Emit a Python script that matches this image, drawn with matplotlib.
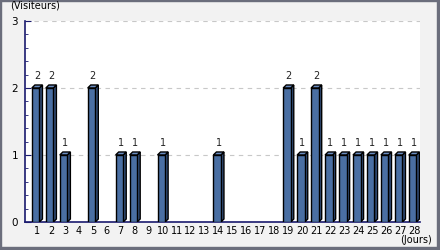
import matplotlib.pyplot as plt
from matplotlib.patches import Polygon, Rectangle

days = list(range(1, 29))
visitors = [2, 2, 1, 0, 2, 0, 1, 1, 0, 1, 0, 0, 0, 1,
            0, 0, 0, 0, 2, 1, 2, 1, 1, 1, 1, 1, 1, 1]

front_color = '#4a6fa3'
top_color = '#6a8cc0'
side_color = '#34517e'
axis_color = '#1a1a6e'

fig = plt.figure(figsize=(4.4, 2.5), dpi=100)
fig.patch.set_facecolor('#f2f2f2')
ax = fig.add_axes([25 / 440, 28 / 250, 395 / 440, 201 / 250])
ax.set_facecolor('white')

width = 0.54
dx = 0.22   # depth of the fake 3d side, in days
dy = 0.045  # depth of the top face, in visitors
for d, v in zip(days, visitors):
    if v == 0:
        continue
    x0 = d - 0.37
    x1 = x0 + width
    ax.add_patch(Polygon([(x1, 0), (x1 + dx, dy), (x1 + dx, v + dy), (x1, v)],
                         closed=True, fc=side_color, ec='black', lw=1.0, zorder=3))
    ax.add_patch(Polygon([(x0, v), (x1, v), (x1 + dx, v + dy), (x0 + dx, v + dy)],
                         closed=True, fc=top_color, ec='black', lw=1.0, zorder=3))
    ax.bar(x0, v, width=width, align='edge', color=front_color,
           edgecolor='black', linewidth=1.0, zorder=4)
    ax.text(d, v + 0.1, str(v), ha='center', va='bottom', fontsize=7, color='#222222')

ax.set_xlim(0.14, 28.43)
ax.set_ylim(0, 3)
ax.set_xticks(days)
ax.set_xticklabels([str(d) for d in days], fontsize=7)
ax.set_yticks([0, 1, 2, 3])
ax.set_yticklabels(['0', '1', '2', '3'], fontsize=7.5)
ax.set_yticks([i * 0.2 for i in range(16)], minor=True)
ax.tick_params(axis='x', length=0, pad=3)
ax.tick_params(axis='y', which='major', direction='in', length=4, color=axis_color, pad=5)
ax.tick_params(axis='y', which='minor', direction='in', length=2.5, color=axis_color)
ax.grid(axis='y', which='major', color='#c8c8c8', linestyle=(0, (4, 4)), linewidth=0.8)
ax.set_axisbelow(True)
for s in ['top', 'right']:
    ax.spines[s].set_visible(False)
for s in ['left', 'bottom']:
    ax.spines[s].set_color(axis_color)
    ax.spines[s].set_linewidth(1.2)

fig.text(10 / 440, 1 - 5 / 250, '(Visiteurs)', fontsize=7, ha='left', va='center')
fig.text(416 / 440, 1 - 240 / 250, '(Jours)', fontsize=7, ha='center', va='center')

# frame around the picture
edge = '#6b6e7c'
fig.patches.append(Rectangle((0, 0), 1 / 440, 1, transform=fig.transFigure, color=edge))
fig.patches.append(Rectangle((0, 1 - 1 / 250), 1, 1 / 250, transform=fig.transFigure, color=edge))
fig.patches.append(Rectangle((0, 0), 1, 3 / 250, transform=fig.transFigure, color=edge))
fig.patches.append(Rectangle((1 - 3 / 440, 0), 3 / 440, 1, transform=fig.transFigure, color=edge))

fig.savefig('out.png', dpi=100, facecolor=fig.get_facecolor())
